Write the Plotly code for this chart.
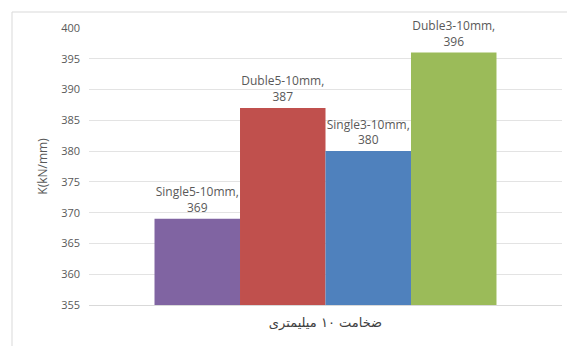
import plotly.graph_objects as go

category = ["ضخامت ۱۰ میلیمتری"]
series_names = ["Single5-10mm", "Duble5-10mm", "Single3-10mm", "Duble3-10mm"]
series_values = [369, 387, 380, 396]
series_colors = ["#8064A2", "#C0504D", "#4F81BD", "#9BBB59"]
y_ticks = [355, 360, 365, 370, 375, 380, 385, 390, 395, 400]

fig = go.Figure()
for name, val, col in zip(series_names, series_values, series_colors):
    fig.add_trace(go.Bar(
        x=category, y=[val], name=name,
        marker=dict(color=col, line=dict(width=0)),
        text=[f"{name},<br>{val}"], textposition="outside",
        textfont=dict(family="Open Sans", size=12, color="#595959"),
        cliponaxis=False, constraintext="none",
    ))

W, H = 567, 346
ml, mr, mt, mb = 89, 5, 28, 41
pw = W - ml - mr
ph = H - mt - mb

fig.update_layout(
    width=W, height=H,
    margin=dict(l=ml, r=mr, t=mt, b=mb),
    paper_bgcolor="white", plot_bgcolor="white",
    barmode="group", bargap=0.277, bargroupgap=0,
    showlegend=False,
    font=dict(family="Open Sans, DejaVu Sans", color="#595959"),
    yaxis=dict(
        range=[355, 400], tickvals=y_ticks,
        showgrid=True, gridcolor="#e3e3e3", gridwidth=1,
        zeroline=False, showline=False, ticks="",
        ticklabelstandoff=8,
        tickfont=dict(family="Open Sans", size=11, color="#595959"),
        title=dict(text="K(kN/mm)", font=dict(family="Open Sans", size=12, color="#595959"), standoff=10),
    ),
    xaxis=dict(
        showline=True, linecolor="#d9d9d9", linewidth=1, ticks="",
        tickfont=dict(family="DejaVu Sans", size=13, color="#404040"),
        ticklabelstandoff=5,
    ),
    shapes=[dict(
        type="rect", xref="paper", yref="paper",
        x0=(12 - ml) / pw, x1=(W + 20 - ml) / pw,
        y0=-(mb + 20) / ph, y1=(H - mb - 12) / ph,
        line=dict(color="#d9d9d9", width=1), fillcolor="rgba(0,0,0,0)", layer="below",
    )],
)

fig.write_html("out.html")
